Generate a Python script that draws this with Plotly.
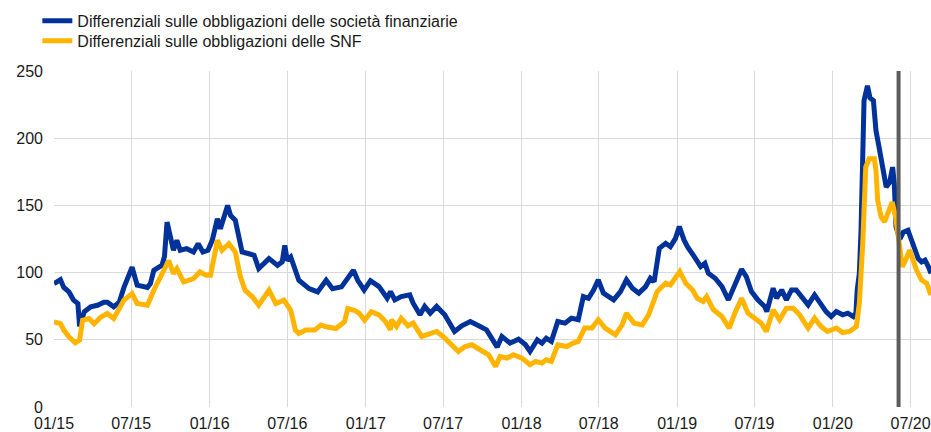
import plotly.graph_objects as go

# ---- data ----
fin_dates = [
    "2015-01-01","2015-01-16","2015-01-24","2015-02-05","2015-02-16","2015-02-26","2015-03-02","2015-03-09",
    "2015-03-13","2015-03-28","2015-04-13","2015-04-28","2015-05-06","2015-05-21","2015-06-03","2015-06-14",
    "2015-06-22","2015-07-03","2015-07-15","2015-08-08","2015-08-15","2015-08-23","2015-09-04","2015-09-11",
    "2015-09-17","2015-09-23","2015-10-01","2015-10-08","2015-10-16","2015-10-24","2015-11-08","2015-11-24",
    "2015-12-05","2015-12-16","2015-12-28",
    "2016-01-07","2016-01-19","2016-01-26","2016-02-12","2016-02-19","2016-03-01","2016-03-09","2016-03-17",
    "2016-04-02","2016-04-14","2016-04-25","2016-05-19","2016-06-08","2016-06-19","2016-06-25","2016-07-01",
    "2016-07-09","2016-07-28","2016-08-21","2016-09-10","2016-09-30","2016-10-15","2016-11-05","2016-11-20",
    "2016-12-03","2016-12-13","2016-12-28",
    "2017-01-12","2017-02-01","2017-02-20","2017-02-28","2017-03-10","2017-03-25","2017-04-14","2017-04-22",
    "2017-05-08","2017-05-19","2017-06-01","2017-06-16","2017-07-05","2017-07-28","2017-08-14","2017-09-03",
    "2017-09-26","2017-10-11","2017-11-05","2017-11-16","2017-12-05","2017-12-25",
    "2018-01-10","2018-01-21","2018-02-07","2018-02-18","2018-02-28","2018-03-12","2018-03-27","2018-04-13",
    "2018-04-28","2018-05-14","2018-05-26","2018-06-07","2018-06-19","2018-06-30","2018-07-12","2018-08-05",
    "2018-08-21","2018-09-04","2018-09-18","2018-10-03","2018-10-19","2018-10-30","2018-11-08","2018-11-20",
    "2018-12-05","2018-12-16","2018-12-28",
    "2019-01-06","2019-01-17","2019-01-25","2019-02-10","2019-02-25","2019-03-07","2019-03-15","2019-03-31",
    "2019-04-16","2019-05-01","2019-05-12","2019-06-01","2019-06-12","2019-06-24","2019-07-09","2019-07-25",
    "2019-07-30","2019-08-14","2019-08-22","2019-09-03","2019-09-14","2019-09-26","2019-10-07","2019-10-19",
    "2019-11-04","2019-11-19","2019-12-01","2019-12-16","2019-12-28",
    "2020-01-09","2020-01-24","2020-02-05","2020-02-18","2020-02-24","2020-02-27","2020-03-03","2020-03-07",
    "2020-03-11","2020-03-14","2020-03-22","2020-03-28","2020-04-05","2020-04-11","2020-04-19","2020-04-27",
    "2020-05-05","2020-05-13","2020-05-20","2020-05-24","2020-05-28","2020-06-06","2020-06-14","2020-06-25",
    "2020-07-03","2020-07-11","2020-07-19","2020-07-27","2020-08-04","2020-08-12","2020-08-18",
]
fin_values = [
    91.8, 94.8, 89, 85.6, 79.5, 77, 60, 68,
    70.8, 74.5, 75.7, 78, 78, 74.5, 78, 89,
    95, 104, 90.6, 89, 91.8, 101.7, 104, 105.4,
    112, 137.6, 126.5, 116.6, 124, 116.6, 117.8, 115.3,
    121.5, 115.3, 116.6,
    124, 140, 132.7, 150, 142.6, 138.9, 126.5, 115.3,
    114, 112.9, 103, 110.4, 105.4, 108, 120.3, 109,
    111.6, 94.3, 88.1, 85.6, 94.3, 88, 89.4, 95.5,
    101.7, 94.3, 87.1,
    94, 89.6, 81, 85.9, 79.7, 82.2, 83.4, 77.2,
    68.6, 74.8, 69.8, 74.8, 68.6, 56.2, 60.4, 63.6,
    59.9, 57.4, 44.6, 52.5, 47.5, 50.5,
    46.5, 41.3, 50, 47.5, 51.2, 48.8, 63.6, 62.4,
    66.1, 64.9, 82.2, 80.9, 87.1, 94.6, 84.7, 79.7,
    85.9, 94.6, 88.4, 84.7, 89.6, 95.8, 93.3, 118,
    121.8, 119.3, 125.5,
    134.2, 124.3, 119.3, 111.9, 104.5, 106.9, 99.5, 95.8,
    89.6, 79.7, 88.4, 102.5, 97, 85.9, 79.7, 74.8,
    71, 88.4, 80.9, 87.1, 79.7, 87.1, 87.1, 82.2,
    76, 83.4, 77.2, 71, 67.3,
    71, 68.6, 69.8, 67.3, 70, 87, 99.4, 131.5,
    180, 228, 239, 230, 228, 205.7, 192, 178.5,
    163.7, 167, 178.5, 166, 134, 125, 130, 131.5,
    125, 116.7, 110.5, 108, 109.3, 104.3, 99.4,
]

snf_dates = [
    "2015-01-01","2015-01-16","2015-01-24","2015-02-05","2015-02-20","2015-03-02","2015-03-09","2015-03-24",
    "2015-04-05","2015-04-21","2015-05-06","2015-05-21","2015-06-14","2015-07-03","2015-07-15","2015-08-08",
    "2015-08-23","2015-09-08","2015-09-27","2015-10-08","2015-10-16","2015-11-01","2015-11-24","2015-12-09",
    "2015-12-24",
    "2016-01-03","2016-01-19","2016-01-30","2016-02-15","2016-03-01","2016-03-13","2016-03-24","2016-04-10",
    "2016-04-25","2016-05-19","2016-06-04","2016-06-23","2016-07-09","2016-07-20","2016-07-28","2016-08-13",
    "2016-09-03","2016-09-18","2016-09-30","2016-10-23","2016-11-12","2016-11-20","2016-12-05","2016-12-17",
    "2016-12-29",
    "2017-01-14","2017-02-01","2017-02-16","2017-02-28","2017-03-02","2017-03-14","2017-03-25","2017-04-10",
    "2017-04-22","2017-05-12","2017-05-27","2017-06-16","2017-07-01","2017-07-21","2017-08-06","2017-08-22",
    "2017-09-07","2017-09-26","2017-10-16","2017-11-01","2017-11-12","2017-11-28","2017-12-13",
    "2018-01-02","2018-01-21","2018-02-03","2018-02-18","2018-02-28","2018-03-12","2018-03-27","2018-04-17",
    "2018-05-02","2018-05-14","2018-05-29","2018-06-15","2018-06-30","2018-07-16","2018-08-09","2018-08-25",
    "2018-09-04","2018-09-22","2018-10-11","2018-10-26","2018-11-15","2018-12-05","2018-12-16","2018-12-28",
    "2019-01-07","2019-01-21","2019-02-06","2019-02-17","2019-03-03","2019-03-11","2019-03-27","2019-04-16",
    "2019-05-03","2019-05-16","2019-06-01","2019-06-16","2019-07-01","2019-07-17","2019-07-29","2019-08-14",
    "2019-08-29","2019-09-14","2019-09-30","2019-10-15","2019-11-04","2019-11-19","2019-12-04","2019-12-19",
    "2020-01-09","2020-01-24","2020-02-09","2020-02-25","2020-03-03","2020-03-11","2020-03-18","2020-03-26",
    "2020-04-07","2020-04-11","2020-04-15","2020-04-23","2020-05-01","2020-05-09","2020-05-19","2020-05-27",
    "2020-06-02","2020-06-12","2020-06-21","2020-06-29","2020-07-07","2020-07-15","2020-07-27","2020-08-08",
    "2020-08-18",
]
snf_values = [
    63.4, 62, 57.2, 52.2, 47.8, 49.9, 64.6, 65.8,
    62, 67, 69.6, 65.8, 79.5, 84.4, 77, 75.7,
    86.9, 96.8, 109, 99.3, 103, 93, 95.5, 100.5,
    98,
    98, 124, 116.6, 121.5, 115.3, 96.8, 86.9, 82,
    75.7, 86.9, 77, 79.5, 72, 57.2, 54.7, 57.2,
    57.2, 61, 59.7, 58.4, 63.4, 73.3, 72, 69.6,
    64.6,
    70.8, 68.6, 63.6, 57.4, 64.9, 59.9, 66.1, 60.4,
    62.4, 52.5, 53.7, 56.2, 52.5, 46.3, 41.3, 45,
    46.3, 42.6, 38.9, 30.2, 37.6, 36.4, 38.9,
    36.4, 31.4, 33.9, 32.7, 35.1, 33.9, 46.3, 45,
    47.5, 48.8, 58.7, 58.7, 64.9, 58.7, 53.7, 61.1,
    69.8, 62.4, 61.1, 68.6, 85.9, 92.1, 90.8, 95.8,
    100.7, 92.1, 87.1, 80.9, 78.5, 82.2, 72.3, 67.3,
    58.7, 69.8, 80.9, 69.8, 66.1, 62.4, 56.2, 72.3,
    64.9, 73.5, 73.5, 68.6, 58.7, 66.1, 59.9, 56.2,
    58.7, 55.4, 56.2, 59.8, 77.1, 121.6, 178.5, 184.7,
    184.7, 176, 153.8, 141.4, 137.7, 143.9, 152.5, 141.4,
    126.6, 104.3, 110.5, 116.7, 109.3, 101.9, 94.4, 91.9,
    83.3,
]

series_names = [
    "Differenziali sulle obbligazioni delle società finanziarie",
    "Differenziali sulle obbligazioni delle SNF",
]
marker_date = "2020-06-03"
x_range = ["2015-01-01", "2020-08-18"]
y_range = [0, 250]

BLUE = "#003299"
YELLOW = "#FFB400"
FONT = "Arial, Liberation Sans, sans-serif"
TXT = "#1a1a1a"

fig = go.Figure()
fig.add_trace(go.Scatter(x=fin_dates, y=fin_values, mode="lines", name=series_names[0],
                         line=dict(color=BLUE, width=5), legend="legend"))
fig.add_trace(go.Scatter(x=snf_dates, y=snf_values, mode="lines", name=series_names[1],
                         line=dict(color=YELLOW, width=5), legend="legend2"))

fig.add_shape(type="line", xref="x", yref="paper", x0=marker_date, x1=marker_date, y0=0, y1=1,
              line=dict(color="#5c5c5c", width=4), layer="above")

legend_common = dict(x=-0.019, xanchor="left", yanchor="top",
                     font=dict(family=FONT, size=16, color=TXT),
                     bgcolor="rgba(0,0,0,0)", itemwidth=30)

fig.update_layout(
    width=931, height=432,
    margin=dict(l=54, r=0, t=71, b=25, autoexpand=False),
    paper_bgcolor="white", plot_bgcolor="white",
    font=dict(family=FONT, size=16, color=TXT),
    showlegend=True,
    legend=dict(y=1.20, **legend_common),
    legend2=dict(y=1.1406, **legend_common),
    xaxis=dict(type="date", range=x_range, tick0="2015-01-01", dtick="M6", tickformat="%m/%y",
               showgrid=True, gridcolor="#d9d9d9", gridwidth=1, zeroline=False, automargin=False,
               showline=False, ticks="", tickfont=dict(size=16), ticklabelstandoff=5),
    yaxis=dict(range=y_range, dtick=50, showgrid=True, gridcolor="#d9d9d9", gridwidth=1,
               zeroline=False, showline=False, ticks="", tickfont=dict(size=16), automargin=False,
               ticklabelstandoff=10),
)

fig.write_html("out.html", config={"displayModeBar": False},
               post_script="document.body.style.margin='0px';")
